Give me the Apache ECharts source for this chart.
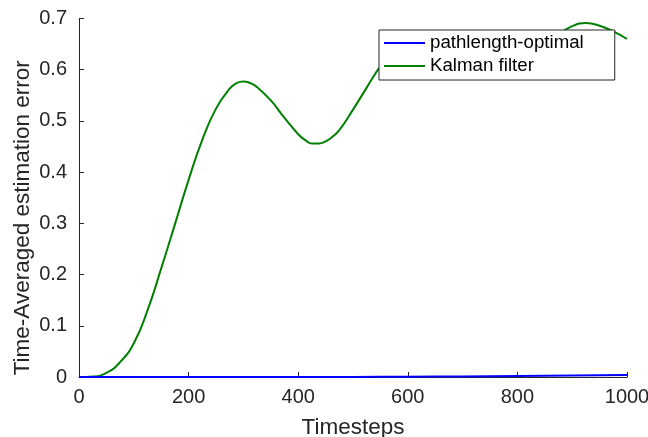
<!DOCTYPE html>
<html>
<head>
<meta charset="utf-8">
<title>Time-Averaged estimation error</title>
<script src="https://cdn.jsdelivr.net/npm/echarts@6/dist/echarts.min.js"></script>
<style>
  html, body { margin: 0; padding: 0; background: #fff; }
  #main { width: 648px; height: 437px; }
</style>
</head>
<body>
<div id="main"></div>
<script>
    // 数据
    var kalmanX = [0, 25, 50, 75, 100, 125, 150, 175, 200, 225, 250, 275, 287.5, 300, 312.5, 325, 350, 375, 400, 412.5, 425, 437.5, 450, 462.5, 475,
                   500, 525, 550, 575, 600, 625, 650, 675, 700, 725, 750, 775, 800, 825, 850, 875, 900, 925, 950, 975, 1000];
    var kalmanY = [0, 0.001, 0.008, 0.029, 0.066, 0.130, 0.212, 0.298, 0.385, 0.463, 0.524, 0.563, 0.574, 0.577, 0.574, 0.566, 0.540, 0.506, 0.474, 0.463, 0.456, 0.456, 0.460, 0.469, 0.482,
                   0.522, 0.565, 0.607, 0.640, 0.658, 0.660, 0.648, 0.628, 0.607, 0.591, 0.583, 0.586, 0.599, 0.620, 0.645, 0.668, 0.685, 0.691, 0.686, 0.675, 0.660];
    var pathX = [0, 100, 200, 300, 400, 500, 600, 700, 800, 900, 1000];
    var pathY = [0, 0, 0, 0, 0, 0.0002, 0.0006, 0.0012, 0.002, 0.003, 0.0038];
    var seriesNames = ['pathlength-optimal', 'Kalman filter'];

    function pairs(xs, ys) {
        var out = [];
        for (var i = 0; i < xs.length; i++) out.push([xs[i], ys[i]]);
        return out;
    }

    var myChart = echarts.init(document.getElementById('main'));
    var axisColor = '#262626';
    var font = 'Liberation Sans, Arial, sans-serif';

    var option = {
        animation: false,
        backgroundColor: '#fff',
        textStyle: { fontFamily: font },
        grid: { left: 79, right: 21, top: 18.5, bottom: 60, outerBoundsMode: 'none', containLabel: false },
        legend: {
            orient: 'vertical',
            left: 379,
            top: 30,
            data: seriesNames,
            backgroundColor: '#fff',
            borderColor: axisColor,
            borderWidth: 1,
            padding: [3, 31, 4, 5],
            itemGap: 3,
            itemWidth: 41,
            itemHeight: 2,
            icon: 'rect',
            textStyle: { fontFamily: font, fontSize: 18.7, color: '#000', lineHeight: 20 }
        },
        xAxis: {
            type: 'value',
            min: 0, max: 1000, interval: 200,
            name: 'Timesteps',
            nameLocation: 'middle',
            nameGap: 39,
            nameMoveOverlap: false,
            nameTextStyle: { fontFamily: font, fontSize: 22.5, color: axisColor },
            axisLine: { lineStyle: { color: axisColor, width: 1 } },
            axisTick: { inside: true, length: 5, lineStyle: { color: axisColor } },
            axisLabel: {
                fontFamily: font, fontSize: 20, color: axisColor, margin: 10,
                formatter: function (v) { return String(v); }
            },
            splitLine: { show: false }
        },
        yAxis: {
            type: 'value',
            min: 0, max: 0.7, interval: 0.1,
            name: 'Time-Averaged estimation error',
            nameLocation: 'middle',
            nameGap: 45,
            nameMoveOverlap: false,
            nameTextStyle: { fontFamily: font, fontSize: 22.5, color: axisColor, padding: [0, 40, 0, 0] },
            axisLine: { show: true, lineStyle: { color: axisColor, width: 1 } },
            axisTick: { show: true, inside: true, length: 5, lineStyle: { color: axisColor } },
            axisLabel: { fontFamily: font, fontSize: 20, color: axisColor, margin: 12 },
            splitLine: { show: false }
        },
        series: [
            {
                name: seriesNames[0],
                type: 'line',
                data: pairs(pathX, pathY),
                showSymbol: false,
                smooth: true,
                color: '#0000ff',
                lineStyle: { color: '#0000ff', width: 2 },
                z: 3
            },
            {
                name: seriesNames[1],
                type: 'line',
                data: pairs(kalmanX, kalmanY),
                showSymbol: false,
                smooth: true,
                color: '#008000',
                lineStyle: { color: '#008000', width: 2 },
                z: 2
            }
        ]
    };

    myChart.setOption(option);
</script>
</body>
</html>
